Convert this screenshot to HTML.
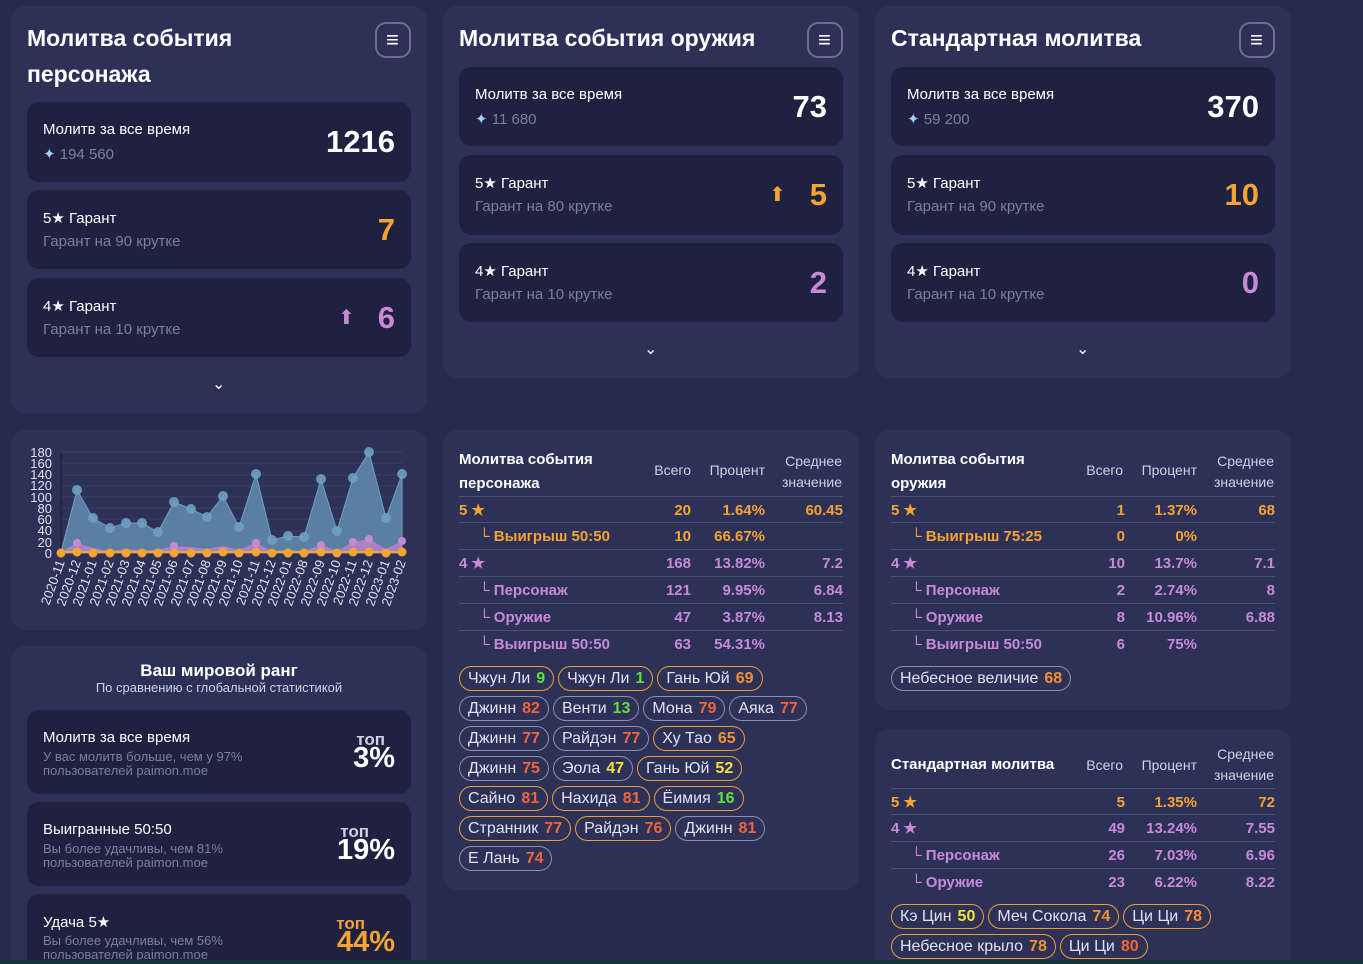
<!DOCTYPE html><html><head><meta charset="utf-8"><style>
*{box-sizing:border-box;margin:0;padding:0}
html{width:1363px;height:964px;overflow:hidden}
body{width:1363px;height:964px;background:#262a4b;font-family:"Liberation Sans",sans-serif;color:#fff;position:relative;overflow:hidden}
.p{position:absolute;background:#2d3157;border-radius:14px}
.c{position:absolute;background:#1f2140;border-radius:12px}
.a{position:absolute;white-space:nowrap}
.h{font-size:23px;font-weight:bold;line-height:36px}
.m{position:absolute;width:36px;height:36px;border:2px solid #6b6f8e;border-radius:11px}
.m:after{content:"≡";position:absolute;left:9px;top:3px;font-size:22px;line-height:26px}
.l1{font-size:15px}.l2{font-size:15px;color:#7a80a0}
.big{font-size:31px;font-weight:bold}
.o{color:#f5a431}.pk{color:#c88ad8}
.chev{position:absolute;font-size:16px;color:#fff}
.t{position:absolute;font-size:15px;font-weight:bold}
.t .r{position:absolute;height:27px;border-bottom:1px solid #4a5070;line-height:27px}
.tg{display:inline-block;height:25px;line-height:23px;border:1px solid #8a90b0;border-radius:13px;padding:0 8px;font-size:16px;color:#dfe2f0;margin:0 4px 5px 0}
.tg.y{border-color:#e8a030}.tg b{margin-left:6px}
.g{color:#5fe03a}.or{color:#f39034}.rd{color:#f2643a}.ye{color:#f5e03a}
</style></head><body>
<div class="p" style="left:11px;top:6px;width:416px;height:407px"></div>
<div class="a h" style="left:27px;top:20px">Молитва события<br>персонажа</div>
<div class="m" style="left:375px;top:22px"></div>
<div class="c" style="left:27px;top:102px;width:384px;height:80px"><div class="a l1" style="left:16px;top:19px">Молитв за все время</div><div class="a l2" style="left:16px;top:43px"><span style="color:#9cd0ff">✦</span> 194 560</div><div class="a big" style="right:16px;top:22px">1216</div></div>
<div class="c" style="left:27px;top:190px;width:384px;height:79px"><div class="a l1" style="left:16px;top:19px">5★ Гарант</div><div class="a l2" style="left:16px;top:43px">Гарант на 90 крутке</div><div class="a big o" style="right:16px;top:22px">7</div></div>
<div class="c" style="left:27px;top:278px;width:384px;height:79px"><div class="a l1" style="left:16px;top:19px">4★ Гарант</div><div class="a l2" style="left:16px;top:43px">Гарант на 10 крутке</div><div class="a pk" style="left:311px;top:27px;font-size:20px">⬆</div><div class="a big pk" style="right:16px;top:22px">6</div></div>
<div class="chev" style="left:212px;top:374px">⌄</div>
<div class="p" style="left:443px;top:6px;width:416px;height:372px"></div>
<div class="a h" style="left:459px;top:20px">Молитва события оружия</div>
<div class="m" style="left:807px;top:22px"></div>
<div class="c" style="left:459px;top:67px;width:384px;height:79px"><div class="a l1" style="left:16px;top:19px">Молитв за все время</div><div class="a l2" style="left:16px;top:43px"><span style="color:#9cd0ff">✦</span> 11 680</div><div class="a big" style="right:16px;top:22px">73</div></div>
<div class="c" style="left:459px;top:155px;width:384px;height:80px"><div class="a l1" style="left:16px;top:19px">5★ Гарант</div><div class="a l2" style="left:16px;top:43px">Гарант на 80 крутке</div><div class="a o" style="left:310px;top:27px;font-size:20px">⬆</div><div class="a big o" style="right:16px;top:22px">5</div></div>
<div class="c" style="left:459px;top:243px;width:384px;height:79px"><div class="a l1" style="left:16px;top:19px">4★ Гарант</div><div class="a l2" style="left:16px;top:43px">Гарант на 10 крутке</div><div class="a big pk" style="right:16px;top:22px">2</div></div>
<div class="chev" style="left:644px;top:339px">⌄</div>
<div class="p" style="left:875px;top:6px;width:416px;height:372px"></div>
<div class="a h" style="left:891px;top:20px">Стандартная молитва</div>
<div class="m" style="left:1239px;top:22px"></div>
<div class="c" style="left:891px;top:67px;width:384px;height:79px"><div class="a l1" style="left:16px;top:19px">Молитв за все время</div><div class="a l2" style="left:16px;top:43px"><span style="color:#9cd0ff">✦</span> 59 200</div><div class="a big" style="right:16px;top:22px">370</div></div>
<div class="c" style="left:891px;top:155px;width:384px;height:80px"><div class="a l1" style="left:16px;top:19px">5★ Гарант</div><div class="a l2" style="left:16px;top:43px">Гарант на 90 крутке</div><div class="a big o" style="right:16px;top:22px">10</div></div>
<div class="c" style="left:891px;top:243px;width:384px;height:79px"><div class="a l1" style="left:16px;top:19px">4★ Гарант</div><div class="a l2" style="left:16px;top:43px">Гарант на 10 крутке</div><div class="a big pk" style="right:16px;top:22px">0</div></div>
<div class="chev" style="left:1076px;top:339px">⌄</div>
<div class="p" style="left:11px;top:430px;width:416px;height:200px"></div>
<svg class="a" style="left:0;top:0" width="430" height="640" font-family="Liberation Sans" font-size="13" fill="#dfe2f0">
<g stroke="#3a3f66" stroke-width="1">
<line x1="61" x2="402" y1="452" y2="452"/><line x1="61" x2="402" y1="463" y2="463"/><line x1="61" x2="402" y1="475" y2="475"/><line x1="61" x2="402" y1="486" y2="486"/><line x1="61" x2="402" y1="497" y2="497"/><line x1="61" x2="402" y1="508" y2="508"/><line x1="61" x2="402" y1="519" y2="519"/><line x1="61" x2="402" y1="531" y2="531"/><line x1="61" x2="402" y1="542" y2="542"/>
</g>
<line x1="61" x2="61" y1="452" y2="553" stroke="#1a1c35"/>
<g text-anchor="end"><text x="52" y="457">180</text><text x="52" y="468">160</text><text x="52" y="479">140</text><text x="52" y="490">120</text><text x="52" y="502">100</text><text x="52" y="513">80</text><text x="52" y="524">60</text><text x="52" y="535">40</text><text x="52" y="547">20</text><text x="52" y="558">0</text></g>
<polygon fill="#5b7fa2" stroke="#6fa0c2" points="61,553 61,552 77,490 93,518 110,528 126,523 142,523 158,532 174,502 191,509 207,517 223,496 239,527 256,474 272,540 288,536 304,537 321,479 337,531 353,478 369,452 386,518 402,474 402,553"/>
<polygon fill="#b583c8" fill-opacity=".9" points="61,553 61,552 77,543 93,548 110,551 126,549 142,550 158,550 174,546 191,547 207,549 223,546 239,550 256,543 272,551 288,550 304,551 321,545 337,551 353,542 369,539 386,549 402,541 402,553"/>
<g fill="#6fa0c2" opacity=".9"><circle cx="77" cy="490" r="5"/><circle cx="93" cy="518" r="5"/><circle cx="110" cy="528" r="5"/><circle cx="126" cy="523" r="5"/><circle cx="142" cy="523" r="5"/><circle cx="158" cy="532" r="5"/><circle cx="174" cy="502" r="5"/><circle cx="191" cy="509" r="5"/><circle cx="207" cy="517" r="5"/><circle cx="223" cy="496" r="5"/><circle cx="239" cy="527" r="5"/><circle cx="256" cy="474" r="5"/><circle cx="272" cy="540" r="5"/><circle cx="288" cy="536" r="5"/><circle cx="304" cy="537" r="5"/><circle cx="321" cy="479" r="5"/><circle cx="337" cy="531" r="5"/><circle cx="353" cy="478" r="5"/><circle cx="369" cy="452" r="5"/><circle cx="386" cy="518" r="5"/><circle cx="402" cy="474" r="5"/></g>
<g fill="#c48ad8"><circle cx="77" cy="543" r="4"/><circle cx="174" cy="546" r="4"/><circle cx="256" cy="543" r="4"/><circle cx="321" cy="545" r="4"/><circle cx="353" cy="542" r="4"/><circle cx="369" cy="539" r="4"/><circle cx="402" cy="541" r="4"/></g>
<line x1="61" x2="402" y1="552" y2="552" stroke="#f5a431" stroke-width="2"/>
<g fill="#f5a431"><circle cx="61" cy="553" r="4.5"/><circle cx="77" cy="552" r="4.5"/><circle cx="93" cy="553" r="4.5"/><circle cx="110" cy="553" r="4.5"/><circle cx="126" cy="553" r="4.5"/><circle cx="142" cy="553" r="4.5"/><circle cx="158" cy="553" r="4.5"/><circle cx="174" cy="553" r="4.5"/><circle cx="191" cy="553" r="4.5"/><circle cx="207" cy="553" r="4.5"/><circle cx="223" cy="552" r="4.5"/><circle cx="239" cy="553" r="4.5"/><circle cx="256" cy="552" r="4.5"/><circle cx="272" cy="553" r="4.5"/><circle cx="288" cy="553" r="4.5"/><circle cx="304" cy="553" r="4.5"/><circle cx="321" cy="552" r="4.5"/><circle cx="337" cy="553" r="4.5"/><circle cx="353" cy="552" r="4.5"/><circle cx="369" cy="552" r="4.5"/><circle cx="386" cy="553" r="4.5"/><circle cx="402" cy="552" r="4.5"/></g>
<g text-anchor="end">
<text transform="translate(65,562) rotate(-70)">2020-11</text><text transform="translate(81,562) rotate(-70)">2020-12</text><text transform="translate(97,562) rotate(-70)">2021-01</text><text transform="translate(114,562) rotate(-70)">2021-02</text><text transform="translate(130,562) rotate(-70)">2021-03</text><text transform="translate(146,562) rotate(-70)">2021-04</text><text transform="translate(162,562) rotate(-70)">2021-05</text><text transform="translate(178,562) rotate(-70)">2021-06</text><text transform="translate(195,562) rotate(-70)">2021-07</text><text transform="translate(211,562) rotate(-70)">2021-08</text><text transform="translate(227,562) rotate(-70)">2021-09</text><text transform="translate(243,562) rotate(-70)">2021-10</text><text transform="translate(260,562) rotate(-70)">2021-11</text><text transform="translate(276,562) rotate(-70)">2021-12</text><text transform="translate(292,562) rotate(-70)">2022-01</text><text transform="translate(308,562) rotate(-70)">2022-08</text><text transform="translate(325,562) rotate(-70)">2022-09</text><text transform="translate(341,562) rotate(-70)">2022-10</text><text transform="translate(357,562) rotate(-70)">2022-11</text><text transform="translate(373,562) rotate(-70)">2022-12</text><text transform="translate(390,562) rotate(-70)">2023-01</text><text transform="translate(406,562) rotate(-70)">2023-02</text>
</g></svg>
<div class="p" style="left:11px;top:646px;width:416px;height:340px"></div>
<div class="a" style="left:11px;width:416px;text-align:center;top:661px;font-size:17px;font-weight:bold">Ваш мировой ранг</div>
<div class="a" style="left:11px;width:416px;text-align:center;top:680px;font-size:13px;color:#cfd2e4">По сравнению с глобальной статистикой</div>
<div class="c" style="left:27px;top:710px;width:384px;height:84px"><div class="a l1" style="left:16px;top:19px">Молитв за все время</div><div class="a" style="left:16px;top:40px;font-size:13px;color:#7a80a0;line-height:14px">У вас молитв больше, чем у 97%<br>пользователей paimon.moe</div><div class="a" style="right:26px;top:20px;font-size:17px;font-weight:bold;color:#cfd2e4">топ</div><div class="a" style="right:16px;top:32px;font-size:29px;font-weight:bold">3%</div></div>
<div class="c" style="left:27px;top:802px;width:384px;height:84px"><div class="a l1" style="left:16px;top:19px">Выигранные 50:50</div><div class="a" style="left:16px;top:40px;font-size:13px;color:#7a80a0;line-height:14px">Вы более удачливы, чем 81%<br>пользователей paimon.moe</div><div class="a" style="right:42px;top:20px;font-size:17px;font-weight:bold;color:#cfd2e4">топ</div><div class="a" style="right:16px;top:32px;font-size:29px;font-weight:bold">19%</div></div>
<div class="c" style="left:27px;top:894px;width:384px;height:84px"><div class="a l1" style="left:16px;top:19px">Удача 5★</div><div class="a" style="left:16px;top:40px;font-size:13px;color:#7a80a0;line-height:14px">Вы более удачливы, чем 56%<br>пользователей paimon.moe</div><div class="a o" style="right:46px;top:20px;font-size:17px;font-weight:bold">топ</div><div class="a o" style="right:16px;top:32px;font-size:29px;font-weight:bold">44%</div></div>
<div class="p" style="left:443px;top:430px;width:416px;height:460px"></div>
<div class="a" style="left:459px;top:448px;font-size:15px;font-weight:bold;line-height:24px">Молитва события<br>персонажа</div>
<div class="a" style="right:672px;top:462px;font-size:14px;color:#cfd2e4">Всего</div>
<div class="a" style="right:598px;top:462px;font-size:14px;color:#cfd2e4">Процент</div>
<div class="a" style="right:521px;top:451px;font-size:14px;color:#cfd2e4;text-align:right;line-height:21px">Среднее<br>значение</div>
<div class="t" style="left:459px;top:496px;width:384px">
<div class="r o" style="left:0;right:0;top:0;border-top:1px solid #4a5070">5 ★<span class="a" style="right:152px">20</span><span class="a" style="right:78px">1.64%</span><span class="a" style="right:0">60.45</span></div>
<div class="r o" style="left:0;right:0;top:27px"><span style="margin-left:20px">└ Выигрыш 50:50</span><span class="a" style="right:152px">10</span><span class="a" style="right:78px">66.67%</span></div>
<div class="r pk" style="left:0;right:0;top:54px">4 ★<span class="a" style="right:152px">168</span><span class="a" style="right:78px">13.82%</span><span class="a" style="right:0">7.2</span></div>
<div class="r pk" style="left:0;right:0;top:81px"><span style="margin-left:20px">└ Персонаж</span><span class="a" style="right:152px">121</span><span class="a" style="right:78px">9.95%</span><span class="a" style="right:0">6.84</span></div>
<div class="r pk" style="left:0;right:0;top:108px"><span style="margin-left:20px">└ Оружие</span><span class="a" style="right:152px">47</span><span class="a" style="right:78px">3.87%</span><span class="a" style="right:0">8.13</span></div>
<div class="r pk" style="left:0;right:0;top:135px;border:0"><span style="margin-left:20px">└ Выигрыш 50:50</span><span class="a" style="right:152px">63</span><span class="a" style="right:78px">54.31%</span></div>
</div>
<div class="a" style="left:459px;top:666px;width:390px;white-space:normal">
<span class="tg y">Чжун Ли<b class="g">9</b></span><span class="tg y">Чжун Ли<b class="g">1</b></span><span class="tg y">Гань Юй<b class="or">69</b></span><br>
<span class="tg">Джинн<b class="rd">82</b></span><span class="tg">Венти<b class="g">13</b></span><span class="tg">Мона<b class="rd">79</b></span><span class="tg">Аяка<b class="rd">77</b></span><br>
<span class="tg">Джинн<b class="rd">77</b></span><span class="tg">Райдэн<b class="rd">77</b></span><span class="tg y">Ху Тао<b class="or">65</b></span><br>
<span class="tg">Джинн<b class="rd">75</b></span><span class="tg">Эола<b class="ye">47</b></span><span class="tg y">Гань Юй<b class="ye">52</b></span><br>
<span class="tg y">Сайно<b class="rd">81</b></span><span class="tg y">Нахида<b class="rd">81</b></span><span class="tg y">Ёимия<b class="g">16</b></span><br>
<span class="tg y">Странник<b class="rd">77</b></span><span class="tg y">Райдэн<b class="rd">76</b></span><span class="tg">Джинн<b class="rd">81</b></span><br>
<span class="tg">Е Лань<b class="rd">74</b></span></div>
<div class="p" style="left:875px;top:430px;width:416px;height:280px"></div>
<div class="a" style="left:891px;top:448px;font-size:15px;font-weight:bold;line-height:24px">Молитва события<br>оружия</div>
<div class="a" style="right:240px;top:462px;font-size:14px;color:#cfd2e4">Всего</div>
<div class="a" style="right:166px;top:462px;font-size:14px;color:#cfd2e4">Процент</div>
<div class="a" style="right:89px;top:451px;font-size:14px;color:#cfd2e4;text-align:right;line-height:21px">Среднее<br>значение</div>
<div class="t" style="left:891px;top:496px;width:384px">
<div class="r o" style="left:0;right:0;top:0;border-top:1px solid #4a5070">5 ★<span class="a" style="right:150px">1</span><span class="a" style="right:78px">1.37%</span><span class="a" style="right:0">68</span></div>
<div class="r o" style="left:0;right:0;top:27px"><span style="margin-left:20px">└ Выигрыш 75:25</span><span class="a" style="right:150px">0</span><span class="a" style="right:78px">0%</span></div>
<div class="r pk" style="left:0;right:0;top:54px">4 ★<span class="a" style="right:150px">10</span><span class="a" style="right:78px">13.7%</span><span class="a" style="right:0">7.1</span></div>
<div class="r pk" style="left:0;right:0;top:81px"><span style="margin-left:20px">└ Персонаж</span><span class="a" style="right:150px">2</span><span class="a" style="right:78px">2.74%</span><span class="a" style="right:0">8</span></div>
<div class="r pk" style="left:0;right:0;top:108px"><span style="margin-left:20px">└ Оружие</span><span class="a" style="right:150px">8</span><span class="a" style="right:78px">10.96%</span><span class="a" style="right:0">6.88</span></div>
<div class="r pk" style="left:0;right:0;top:135px;border:0"><span style="margin-left:20px">└ Выигрыш 50:50</span><span class="a" style="right:150px">6</span><span class="a" style="right:78px">75%</span></div>
</div>
<div class="a" style="left:891px;top:666px"><span class="tg">Небесное величие<b class="or">68</b></span></div>
<div class="p" style="left:875px;top:729px;width:416px;height:260px"></div>
<div class="a" style="left:891px;top:756px;font-size:15px;font-weight:bold">Стандартная молитва</div>
<div class="a" style="right:240px;top:757px;font-size:14px;color:#cfd2e4">Всего</div>
<div class="a" style="right:166px;top:757px;font-size:14px;color:#cfd2e4">Процент</div>
<div class="a" style="right:89px;top:744px;font-size:14px;color:#cfd2e4;text-align:right;line-height:21px">Среднее<br>значение</div>
<div class="t" style="left:891px;top:788px;width:384px">
<div class="r o" style="left:0;right:0;top:0;border-top:1px solid #4a5070">5 ★<span class="a" style="right:150px">5</span><span class="a" style="right:78px">1.35%</span><span class="a" style="right:0">72</span></div>
<div class="r pk" style="left:0;right:0;top:27px">4 ★<span class="a" style="right:150px">49</span><span class="a" style="right:78px">13.24%</span><span class="a" style="right:0">7.55</span></div>
<div class="r pk" style="left:0;right:0;top:54px"><span style="margin-left:20px">└ Персонаж</span><span class="a" style="right:150px">26</span><span class="a" style="right:78px">7.03%</span><span class="a" style="right:0">6.96</span></div>
<div class="r pk" style="left:0;right:0;top:81px;border:0"><span style="margin-left:20px">└ Оружие</span><span class="a" style="right:150px">23</span><span class="a" style="right:78px">6.22%</span><span class="a" style="right:0">8.22</span></div>
</div>
<div class="a" style="left:891px;top:904px;width:390px;white-space:normal">
<span class="tg y">Кэ Цин<b class="ye">50</b></span><span class="tg y">Меч Сокола<b class="or">74</b></span><span class="tg y">Ци Ци<b class="or">78</b></span><br>
<span class="tg y">Небесное крыло<b class="or">78</b></span><span class="tg y">Ци Ци<b class="rd">80</b></span></div>
<div class="a" style="left:0;top:960px;width:1363px;height:4px;background:#12343a"></div>
</body></html>
